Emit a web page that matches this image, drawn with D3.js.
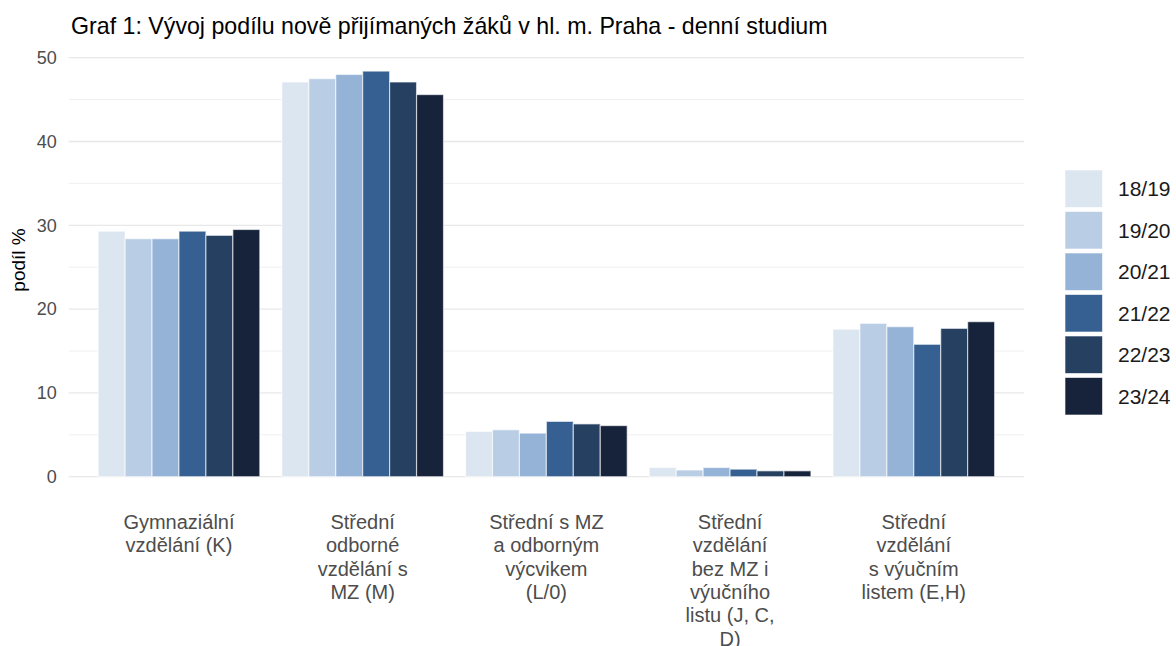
<!DOCTYPE html>
<html>
<head>
<meta charset="utf-8">
<script src="https://cdn.jsdelivr.net/npm/d3@7"></script>
<style>
  body { margin: 0; background: #fff; }
  svg text { font-family: "Liberation Sans", Arial, sans-serif; }
</style>
</head>
<body>
<svg id="chart" width="1176" height="646"></svg>
<script>
// categories (one label line per entry)
const categories = [
  ["Gymnaziální", "vzdělání (K)"],
  ["Střední", "odborné", "vzdělání s", "MZ (M)"],
  ["Střední s MZ", "a odborným", "výcvikem", "(L/0)"],
  ["Střední", "vzdělání", "bez MZ i", "výučního", "listu (J, C,", "D)"],
  ["Střední", "vzdělání", "s výučním", "listem (E,H)"]
];
const years = ["18/19", "19/20", "20/21", "21/22", "22/23", "23/24"];

// podíl % per school year, same order as categories
const s1819 = [29.3, 47.1, 5.4, 1.1, 17.6];
const s1920 = [28.4, 47.5, 5.6, 0.8, 18.3];
const s2021 = [28.4, 48.0, 5.2, 1.1, 17.9];
const s2122 = [29.3, 48.4, 6.6, 0.9, 15.8];
const s2223 = [28.8, 47.1, 6.3, 0.7, 17.7];
const s2324 = [29.5, 45.6, 6.1, 0.7, 18.5];
const series = [s1819, s1920, s2021, s2122, s2223, s2324];

const yTicks = [0, 10, 20, 30, 40, 50];
const yMinor = [5, 15, 25, 35, 45];

const colors = ["#dce6f1", "#b9cde5", "#95b3d7", "#366092", "#254061", "#17233a"];

const svg = d3.select("#chart");
const mLeft = 68.75, mRight = 1024, mTop = 57.7, mBottom = 476.7;

const x = d3.scaleBand()
  .domain(d3.range(categories.length))
  .range([mLeft, mRight])
  .paddingInner(0.12)
  .paddingOuter(0.16);
const xs = d3.scaleBand()
  .domain(years)
  .range([0, x.bandwidth()]);
const y = d3.scaleLinear().domain([0, 50]).range([mBottom, mTop]);
const color = d3.scaleOrdinal().domain(years).range(colors);

// grid
svg.append("g").selectAll("line").data(yMinor).join("line")
  .attr("x1", mLeft).attr("x2", mRight)
  .attr("y1", d => y(d)).attr("y2", d => y(d))
  .attr("stroke", "#f0f0f0").attr("stroke-width", 1);
svg.append("g").selectAll("line").data(yTicks).join("line")
  .attr("x1", mLeft).attr("x2", mRight)
  .attr("y1", d => y(d)).attr("y2", d => y(d))
  .attr("stroke", "#e8e8e8").attr("stroke-width", 1.3);

// bars
const bars = [];
series.forEach((s, j) => s.forEach((v, i) => bars.push({ cat: i, year: years[j], value: v })));
svg.append("g").selectAll("rect").data(bars).join("rect")
  .attr("x", d => x(d.cat) + xs(d.year))
  .attr("width", xs.bandwidth())
  .attr("y", d => y(d.value))
  .attr("height", d => y(0) - y(d.value))
  .attr("fill", d => color(d.year))
  .attr("stroke", "#ffffff")
  .attr("stroke-opacity", 0.6)
  .attr("stroke-width", 1.2);

// y axis labels
const yAxis = svg.append("g")
  .attr("transform", `translate(${mLeft - 12},0)`)
  .call(d3.axisLeft(y).tickValues(yTicks).tickSize(0).tickPadding(0));
yAxis.select(".domain").remove();
yAxis.selectAll("text")
  .attr("fill", "#4d4d4d")
  .style("font-size", "18px");

svg.append("text")
  .attr("transform", "translate(25,260) rotate(-90)")
  .attr("text-anchor", "middle")
  .attr("fill", "#000")
  .style("font-size", "19px")
  .text("podíl %");

// x labels
const xl = svg.append("g").selectAll("text").data(categories).join("text")
  .attr("x", (d, i) => x(i) + x.bandwidth() / 2)
  .attr("y", 529)
  .attr("text-anchor", "middle")
  .attr("fill", "#4d4d4d")
  .style("font-size", "20px");
xl.selectAll("tspan").data(d => d).join("tspan")
  .attr("x", function() { return d3.select(this.parentNode).attr("x"); })
  .attr("dy", (d, k) => k === 0 ? 0 : 23.3)
  .text(d => d);

// title
svg.append("text")
  .attr("x", 71).attr("y", 33.5)
  .attr("fill", "#000")
  .style("font-size", "23.2px")
  .text("Graf 1: Vývoj podílu nově přijímaných žáků v hl. m. Praha - denní studium");

// legend
const leg = svg.append("g").selectAll("g").data(years).join("g")
  .attr("transform", (d, i) => `translate(1065,${170 + i * 41.5})`);
leg.append("rect")
  .attr("width", 37.5).attr("height", 37.5)
  .attr("fill", d => color(d))
  .attr("stroke", "#ffffff").attr("stroke-opacity", 0.6);
leg.append("text")
  .attr("x", 53).attr("y", 19)
  .attr("dy", "0.35em")
  .attr("fill", "#1a1a1a")
  .style("font-size", "21px")
  .text(d => d);
</script>
</body>
</html>
